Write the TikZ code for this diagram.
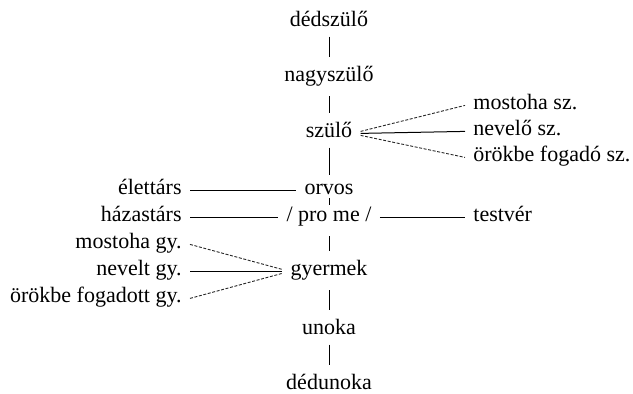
\documentclass[tikz,border=0pt]{standalone}
\usepackage{fontspec}
\setmainfont{Liberation Serif}
\begin{document}
\begin{tikzpicture}[x=0.5pt,y=-0.5pt,
        term/.style={inner xsep=4pt,inner ysep=4.5pt,font=\fontsize{11}{13}\selectfont},
        tie/.style={line width=0.5pt,black},
        loose/.style={line width=0.45pt,black!85,dash pattern=on 1.5pt off 0.8pt}]
        \useasboundingbox (0,0) rectangle (633,394);
        % main line
        \node[term,anchor=base] (dedszulo) at (329,27) {dédszülő};
        \node[term,anchor=base] (nagyszulo) at (329,82) {nagyszülő};
        \node[term,anchor=base] (szulo) at (329,138) {szülő};
        \node[term,anchor=base] (orvos) at (329,195) {orvos};
        \node[term,anchor=base] (prome) at (329,222) {/ pro me /};
        \node[term,anchor=base] (gyermek) at (329,276) {gyermek};
        \node[term,anchor=base] (unoka) at (329,335) {unoka};
        \node[term,anchor=base] (dedunoka) at (329,390) {dédunoka};
        % right side
        \node[term,anchor=base west] (mostsz) at (465,110) {mostoha sz.};
        \node[term,anchor=base west] (nevsz) at (465,136) {nevelő sz.};
        \node[term,anchor=base west] (orsz) at (465,162) {örökbe fogadó sz.};
        \node[term,anchor=base west] (testver) at (465,222) {testvér};
        % left side
        \node[term,anchor=base east] (elet) at (190,195) {élettárs};
        \node[term,anchor=base east] (hazas) at (190,222) {házastárs};
        \node[term,anchor=base east] (mostgy) at (190,249) {mostoha gy.};
        \node[term,anchor=base east] (nevgy) at (190,276) {nevelt gy.};
        \node[term,anchor=base east] (orgy) at (190,303) {örökbe fogadott gy.};

        \draw[tie] (dedszulo) -- (nagyszulo);
        \draw[tie] (nagyszulo) -- (szulo);
        \draw[tie] (szulo) -- (orvos);
        \draw[tie] (orvos) -- (prome);
        \draw[tie] (prome) -- (gyermek);
        \draw[tie] (gyermek) -- (unoka);
        \draw[tie] (unoka) -- (dedunoka);

        \draw[loose] ([yshift=1pt]szulo.mid east) -- (mostsz.mid west);
        \draw[tie] (szulo.mid east) -- (nevsz.mid west);
        \draw[loose] ([yshift=-1pt]szulo.mid east) -- (orsz.mid west);

        \draw[tie] (elet.mid east) -- (orvos.mid west);
        \draw[tie] (hazas.mid east) -- (prome.mid west);
        \draw[tie] (prome.mid east) -- (testver.mid west);

        \draw[loose] (mostgy.mid east) -- ([yshift=1pt]gyermek.mid west);
        \draw[tie] (nevgy.mid east) -- (gyermek.mid west);
        \draw[loose] (orgy.mid east) -- ([yshift=-1pt]gyermek.mid west);
\end{tikzpicture}
\end{document}
